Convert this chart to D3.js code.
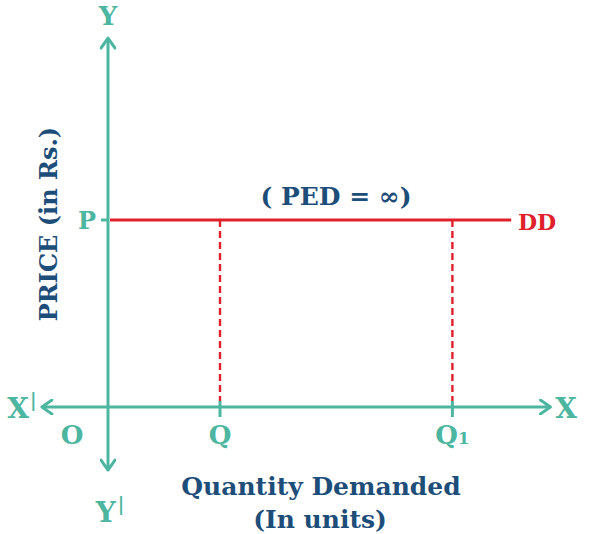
<!DOCTYPE html>
<html><head><meta charset="utf-8">
<script src="https://cdn.jsdelivr.net/npm/d3@7"></script>
<style>body{margin:0;background:#fff}svg{display:block}</style>
</head><body>
<script>
// ---- data ----
const priceLevels = [{label: "P", value: 10}];
const quantities = [{label: "Q", value: 2}, {label: "Q", sub: "1", value: 6.15}];
const demandRange = [0, 7.2];          // perfectly elastic demand at price P
const xDomain = [-1.18, 7.9];          // X' ... X
const yDomain = [-3.37, 19.73];        // Y' ... Y
const curveLabel = "DD";
const pedLabel = "( PED = ∞)";
const xTitle = ["Quantity Demanded", "(In units)"];
const yTitle = "PRICE (in Rs.)";

const W = 594, H = 534;
const teal = "#4db6a0", navy = "#1d4e79", red = "#e0202a";
const font = "'DejaVu Serif', serif";

const x = d3.scaleLinear().domain([0, 1]).range([108, 164]);
const y = d3.scaleLinear().domain([0, 10]).range([407, 220]);

const svg = d3.select("body").append("svg").attr("width", W).attr("height", H);
const defs = svg.append("defs");
defs.append("marker").attr("id", "arr").attr("viewBox", "-12 -8 14 16")
  .attr("refX", 0).attr("refY", 0).attr("markerWidth", 14).attr("markerHeight", 16)
  .attr("markerUnits", "userSpaceOnUse").attr("orient", "auto")
  .append("path").attr("d", "M-10,-7 L0,0 L-10,7").attr("fill", "none")
  .attr("stroke", teal).attr("stroke-width", 3).attr("stroke-linecap", "round").attr("stroke-linejoin", "round");

// axes
const axisEnds = [
  [x(0), y(0), x(0), y(yDomain[1])],
  [x(0), y(0), x(0), y(yDomain[0])],
  [x(0), y(0), x(xDomain[1]), y(0)],
  [x(0), y(0), x(xDomain[0]), y(0)]
];
svg.selectAll(".ax").data(axisEnds).join("line")
  .attr("x1", d => d[0]).attr("y1", d => d[1]).attr("x2", d => d[2]).attr("y2", d => d[3])
  .attr("stroke", teal).attr("stroke-width", 3).attr("marker-end", "url(#arr)");

// ticks on x axis
svg.selectAll(".qt").data(quantities).join("line")
  .attr("x1", d => x(d.value)).attr("x2", d => x(d.value))
  .attr("y1", y(0) - 6).attr("y2", y(0) + 10).attr("stroke", teal).attr("stroke-width", 3);
// tick at P
svg.selectAll(".pt").data(priceLevels).join("line")
  .attr("x1", x(0) - 7).attr("x2", x(0)).attr("y1", d => y(d.value)).attr("y2", d => y(d.value))
  .attr("stroke", teal).attr("stroke-width", 3);

// dashed verticals
svg.selectAll(".dash").data(quantities).join("line")
  .attr("x1", d => x(d.value)).attr("x2", d => x(d.value))
  .attr("y1", y(priceLevels[0].value)).attr("y2", y(0) - 6)
  .attr("stroke", red).attr("stroke-width", 2.4).attr("stroke-dasharray", "7,4");

// demand line
svg.append("line").attr("x1", x(demandRange[0]) + 2).attr("x2", x(demandRange[1]))
  .attr("y1", y(priceLevels[0].value)).attr("y2", y(priceLevels[0].value))
  .attr("stroke", red).attr("stroke-width", 3);

function txt(s, px, py, size, color, anchor) {
  return svg.append("text").attr("x", px).attr("y", py).attr("font-family", font)
    .attr("font-weight", "bold").attr("font-size", size).attr("fill", color)
    .attr("text-anchor", anchor || "middle").text(s);
}

// axis letters
txt("Y", x(0), 25, 26, teal);
const yp = txt("Y", x(0) + 2, 522, 28, teal);
yp.append("tspan").attr("font-size", 18).attr("dy", -12).attr("dx", 2).text("|");
txt("X", 566, 418, 28, teal);
const xp = txt("X", 22, 418, 28, teal);
xp.append("tspan").attr("font-size", 18).attr("dy", -12).attr("dx", 1).text("|");
txt("O", 72, 444, 26, teal);

// P label
svg.selectAll(".pl").data(priceLevels).join("text")
  .attr("x", 87).attr("y", d => y(d.value) + 9).attr("text-anchor", "middle")
  .attr("font-family", font).attr("font-weight", "bold").attr("font-size", 24).attr("fill", teal)
  .text(d => d.label);

// Q labels
const ql = svg.selectAll(".ql").data(quantities).join("text")
  .attr("x", d => x(d.value)).attr("y", 444).attr("text-anchor", "middle")
  .attr("font-family", font).attr("font-weight", "bold").attr("font-size", 26).attr("fill", teal)
  .text(d => d.label);
ql.filter(d => d.sub).append("tspan").attr("font-size", 17).attr("dy", 0).text(d => d.sub);

// DD and PED
txt(curveLabel, 537, 230, 22, red);
txt(pedLabel, 336, 205, 25, navy);

// titles
txt(xTitle[0], 321, 495, 25, navy);
txt(xTitle[1], 320, 528, 25, navy);
svg.append("text").attr("transform", "translate(57,224) rotate(-90)")
  .attr("text-anchor", "middle").attr("font-family", font).attr("font-weight", "bold")
  .attr("font-size", 24).attr("fill", navy).text(yTitle);
</script>
</body></html>
